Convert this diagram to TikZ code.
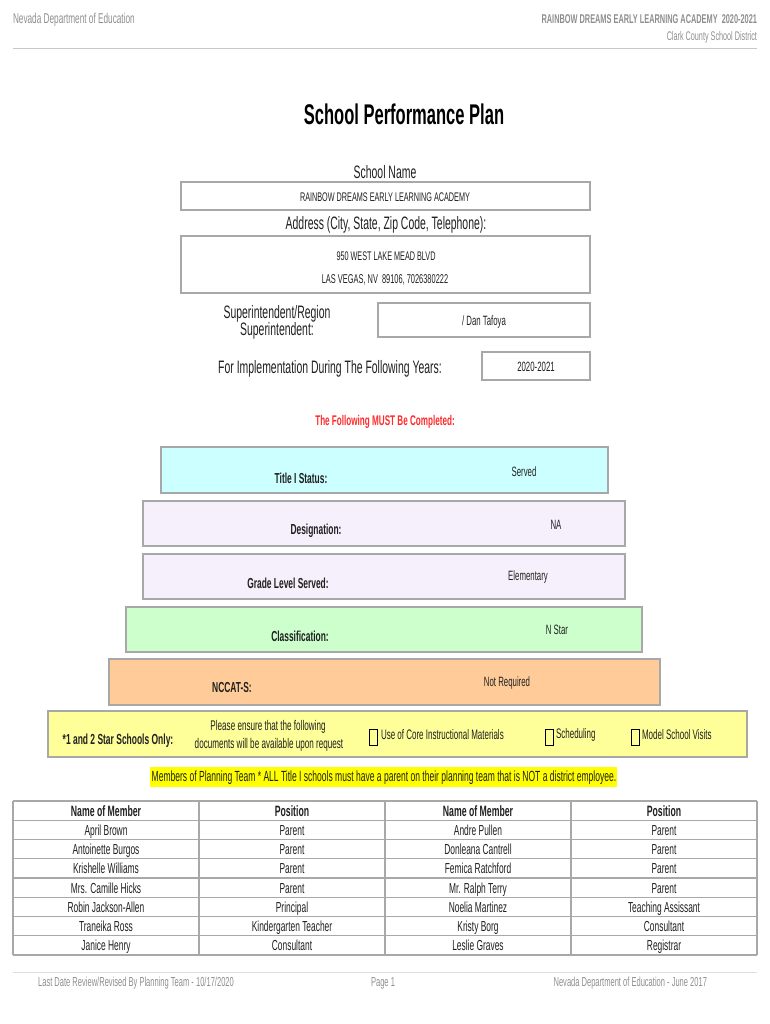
\documentclass[tikz,border=0pt]{standalone}
\usepackage{fontspec}
\setmainfont{Liberation Sans}[FakeStretch=0.58]
\definecolor{hdrgray}{HTML}{8E8E8E}
\definecolor{rulegray}{HTML}{C8C8C8}
\definecolor{boxgray}{HTML}{A8A8A8}
\definecolor{cyanfill}{HTML}{CCFFFF}
\definecolor{lavfill}{HTML}{F6F0FD}
\definecolor{greenfill}{HTML}{CCFFCC}
\definecolor{orangefill}{HTML}{FFCC99}
\definecolor{yelfill}{HTML}{FFFF99}
\definecolor{hilite}{HTML}{FFFF00}
\definecolor{mustred}{HTML}{FF2A2A}
\definecolor{ink}{HTML}{202020}
\newcommand\fsz[1]{\fontsize{#1}{#1}\selectfont}
\begin{document}
\begin{tikzpicture}[x=1pt,y=-1pt,
  every node/.style={inner sep=0pt,outer sep=0pt,text=ink},
  frame/.style={draw=boxgray,line width=1.6pt,rectangle},
  chk/.style={draw=black,line width=0.9pt,rectangle,minimum width=8pt,minimum height=16pt},
  hdr/.style={text=hdrgray,font=\fsz{13}},
  lbl/.style={font=\bfseries\fsz{14.5}},
  val/.style={font=\fsz{13.5}},
  cell/.style={font=\fsz{14.5},text height=10.5pt,text depth=3pt},
  hcell/.style={font=\bfseries\fsz{15},text height=10.5pt,text depth=3pt},
  grid/.style={draw=boxgray,line width=1.1pt}]
\useasboundingbox (0,0) rectangle (770,1024);
% header
\node[hdr,anchor=west,font=\fsz{14.2}] (hl) at (13,20) {Nevada Department of Education};
\node[hdr,anchor=east,font=\bfseries\fsz{12.7}] (hr) at (757,19.5) {RAINBOW DREAMS EARLY LEARNING ACADEMY\ \ 2020-2021};
\node[hdr,anchor=east,font=\fsz{12.5}] (hr2) at (757,37.5) {Clark County School District};
\coordinate (hla) at (13,49);
\coordinate (hlb) at (757,49);
\draw[rulegray,line width=1pt] (hla) -- (hlb);
% title
\node[font=\bfseries\fsz{28.5},text=black] (title) at (404,114) {School Performance Plan};
\node[font=\fsz{18}] (sn) at (385,172) {School Name};
\node[frame,minimum width=409pt,minimum height=28pt] (b1) at (385.5,196) {};
\node[font=\fsz{12.5}] (b1t) at (385,197) {RAINBOW DREAMS EARLY LEARNING ACADEMY};
\node[font=\fsz{18}] (ad) at (386,225) {Address (City, State, Zip Code, Telephone):};
\node[frame,minimum width=409pt,minimum height=57pt] (b2) at (385.5,264.5) {};
\node[font=\fsz{12.5}] (b2a) at (386,256) {950 WEST LAKE MEAD BLVD};
\node[font=\fsz{12.8}] (b2b) at (385,280) {LAS VEGAS, NV\ \ 89106, 7026380222};
\node[font=\fsz{18}] (su1) at (277,314) {Superintendent/Region};
\node[font=\fsz{18}] (su2) at (277,331) {Superintendent:};
\node[frame,minimum width=212pt,minimum height=34pt] (b3) at (484,320) {};
\node[font=\fsz{13.5}] (b3t) at (484,322) {/ Dan Tafoya};
\node[font=\fsz{18}] (impl) at (330,369) {For Implementation During The Following Years:};
\node[frame,minimum width=108pt,minimum height=28pt] (b4) at (536,366) {};
\node[font=\fsz{13.5}] (b4t) at (536,367) {2020-2021};
% must be completed
\node[font=\bfseries\fsz{14},text=mustred] (must) at (385,422) {The Following MUST Be Completed:};
% status boxes
\node[frame,fill=cyanfill,minimum width=447pt,minimum height=46pt] (s1) at (384.5,470) {};
\node[lbl] (s1l) at (301,478) {Title I Status:};
\node[val] (s1v) at (524,472) {Served};
\node[frame,fill=lavfill,minimum width=482pt,minimum height=45pt] (s2) at (384,523.5) {};
\node[lbl] (s2l) at (316,531) {Designation:};
\node[val] (s2v) at (556,525) {NA};
\node[frame,fill=lavfill,minimum width=482pt,minimum height=45pt] (s3) at (384,576.5) {};
\node[lbl] (s3l) at (288,583) {Grade Level Served:};
\node[val] (s3v) at (528,577) {Elementary};
\node[frame,fill=greenfill,minimum width=516pt,minimum height=45pt] (s4) at (384,629.5) {};
\node[lbl] (s4l) at (300,636) {Classification:};
\node[val] (s4v) at (557,630) {N Star};
\node[frame,fill=orangefill,minimum width=551pt,minimum height=46pt] (s5) at (384.5,682) {};
\node[lbl] (s5l) at (232,688) {NCCAT-S:};
\node[val] (s5v) at (507,683) {Not Required};
% star row
\node[frame,fill=yelfill,minimum width=699pt,minimum height=46pt] (s6) at (397.5,734) {};
\node[lbl,font=\bfseries\fsz{14.6}] (s6l) at (118,741) {*1 and 2 Star Schools Only:};
\node[val,font=\fsz{14}] (s6a) at (268,727) {Please ensure that the following};
\node[val,font=\fsz{14}] (s6b) at (269,745) {documents will be available upon request};
\node[chk] (c1) at (373,737) {};
\node[val,anchor=west,font=\fsz{13.8}] (c1t) at (381,735) {Use of Core Instructional Materials};
\node[chk] (c2) at (549,737) {};
\node[val,anchor=west,font=\fsz{13.8}] (c2t) at (556,735) {Scheduling};
\node[chk] (c3) at (635,737) {};
\node[val,anchor=west,font=\fsz{13.8}] (c3t) at (642,735) {Model School Visits};
% highlighted note
\node[fill=hilite,minimum width=467pt,minimum height=20pt] (note) at (383.5,777) {};
\node[font=\fsz{14.7}] (notet) at (384,778) {Members of Planning Team * ALL Title I schools must have a parent on their planning team that is NOT a district employee.};
% table
\foreach \yy in {801,820.25,839.5,858.75,878,897.25,916.5,935.75,955}{
  \draw[grid] (13,\yy) -- (757,\yy);
}
\foreach \xx in {13,199,385,571,757}{
  \draw[grid] (\xx,801) -- (\xx,955);
}
\node[hcell] (h1) at (106,812.5) {Name of Member};
\node[hcell] (h2) at (292,812.5) {Position};
\node[hcell] (h3) at (478,812.5) {Name of Member};
\node[hcell] (h4) at (664,812.5) {Position};
\foreach \n/\a/\b/\c/\d in {
  1/April Brown/Parent/Andre Pullen/Parent,
  2/Antoinette Burgos/Parent/Donleana Cantrell/Parent,
  3/Krishelle Williams/Parent/Femica Ratchford/Parent,
  4/Mrs. Camille Hicks/Parent/Mr. Ralph Terry/Parent,
  5/Robin Jackson-Allen/Principal/Noelia Martinez/Teaching Assissant,
  6/Traneika Ross/Kindergarten Teacher/Kristy Borg/Consultant,
  7/Janice Henry/Consultant/Leslie Graves/Registrar}{
  \pgfmathsetmacro{\ry}{812.3+19.25*\n}
  \node[cell] (r\n a) at (106,\ry) {\a};
  \node[cell] (r\n b) at (292,\ry) {\b};
  \node[cell] (r\n c) at (478,\ry) {\c};
  \node[cell] (r\n d) at (664,\ry) {\d};
}
% footer
\coordinate (fla) at (13,972);
\coordinate (flb) at (757,972);
\draw[rulegray!60,line width=0.8pt] (fla) -- (flb);
\node[hdr] (f1) at (136,983) {Last Date Review/Revised By Planning Team - 10/17/2020};
\node[hdr] (f2) at (383,983) {Page 1};
\node[hdr,anchor=east] (f3) at (707,983) {Nevada Department of Education - June 2017};
\end{tikzpicture}
\end{document}
